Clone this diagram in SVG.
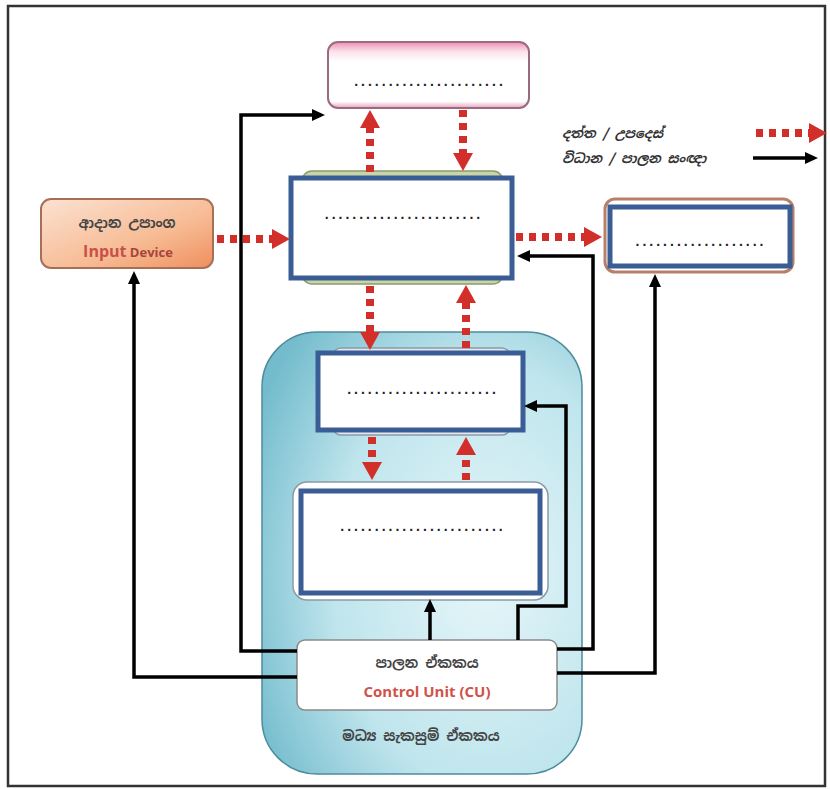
<svg xmlns="http://www.w3.org/2000/svg" width="830" height="789" viewBox="0 0 830 789">
<defs>
<linearGradient id="gPink" x1="0" y1="0" x2="0" y2="1">
<stop offset="0" stop-color="#ee8fb4"/><stop offset="0.15" stop-color="#fbe3ec"/><stop offset="0.3" stop-color="#ffffff"/><stop offset="0.9" stop-color="#ffffff"/><stop offset="1" stop-color="#e7a1bd"/>
</linearGradient>
<linearGradient id="gIn" x1="0" y1="0" x2="1" y2="1">
<stop offset="0" stop-color="#fbe2d2"/><stop offset="0.6" stop-color="#f7bb94"/><stop offset="1" stop-color="#ef8f5e"/>
</linearGradient>
<radialGradient id="gCpu" cx="0.7" cy="0.55" r="0.8">
<stop offset="0" stop-color="#e6f6f9"/><stop offset="0.6" stop-color="#bfe5ed"/><stop offset="1" stop-color="#74bccd"/>
</radialGradient>
<marker id="ar" markerUnits="userSpaceOnUse" markerWidth="19" markerHeight="20" refX="0" refY="10" orient="auto">
<path d="M0,0 L18,10 L0,20 Z" fill="#d32f2a"/>
</marker>
<marker id="ab" markerUnits="userSpaceOnUse" markerWidth="13" markerHeight="12" refX="0" refY="6" orient="auto">
<path d="M0,0 L13,6 L0,12 Z" fill="#000"/>
</marker>
<style>
.dots{font-family:"Liberation Sans",Arial,sans-serif;font-size:14px;font-weight:bold;fill:#222;letter-spacing:3px;text-anchor:middle}
.blue{fill:#fff;stroke:#3b5d95;stroke-width:5}
.red{fill:none;stroke:#d32f2a;stroke-width:8;stroke-dasharray:7 6;marker-end:url(#ar)}
.blk{fill:none;stroke:#000;stroke-width:3.5;marker-end:url(#ab)}
.si{font-family:"Noto Sans Sinhala","Noto Sans","DejaVu Sans",sans-serif;font-weight:bold;fill:#444;text-anchor:middle}
.leg{font-family:"Noto Sans Sinhala","Noto Sans","DejaVu Sans",sans-serif;font-weight:bold;font-style:italic;font-size:13px;fill:#333;text-anchor:start}
.en{font-family:"Open Sans","Liberation Sans",sans-serif;font-weight:bold;text-anchor:middle}
</style>
</defs>
<rect x="8" y="6" width="817" height="780" fill="#fff" stroke="#333" stroke-width="2.5"/>

<g id="cpu">
<rect x="262" y="332" width="320" height="442" rx="55" fill="url(#gCpu)" stroke="#4d8c9c" stroke-width="1.5"/>
<text class="si" x="421" y="741" font-size="14">මධ්‍ය සැකසුම් ඒකකය</text>
</g>

<g id="top-box">
<rect x="328" y="42" width="201" height="66" rx="10" fill="url(#gPink)" stroke="#9a6a80" stroke-width="2"/>
<text class="dots" x="430" y="86">......................</text>
</g>

<g id="memory">
<rect x="302" y="171" width="201" height="113" rx="10" fill="#c9d5a6" stroke="#8c9b6d" stroke-width="1.5"/>
<rect class="blue" x="291" y="178" width="221" height="100"/>
<text class="dots" x="404" y="219">.......................</text>
</g>

<g id="input-device">
<rect x="41" y="199" width="172" height="69" rx="10" fill="url(#gIn)" stroke="#a67058" stroke-width="2"/>
<text class="si" x="127" y="228" font-size="14">ආදාන උපාංග</text>
<text class="en" x="128" y="257"><tspan font-size="16" fill="#c8504a">Input</tspan><tspan font-size="13" fill="#a6453c"> Device</tspan></text>
</g>

<g id="output-box">
<rect x="605" y="199" width="188" height="73" rx="10" fill="#fff" stroke="#b98068" stroke-width="3"/>
<rect class="blue" x="610" y="207" width="180" height="59"/>
<text class="dots" x="701" y="246">...................</text>
</g>

<g id="register-box">
<rect x="333" y="348" width="177" height="87" rx="8" fill="#e4e8ec" stroke="#8a9aa8" stroke-width="1.5"/>
<rect class="blue" x="318" y="353" width="205" height="77"/>
<text class="dots" x="423" y="394">......................</text>
</g>

<g id="alu-box">
<rect x="293" y="482" width="255" height="118" rx="14" fill="#fff" stroke="#8a9aa8" stroke-width="1.5"/>
<rect class="blue" x="301" y="491" width="239" height="102"/>
<text class="dots" x="423" y="531">........................</text>
</g>

<g id="control-unit">
<rect x="297" y="640" width="260" height="70" rx="8" fill="#fff" stroke="#8a8a8a" stroke-width="1.5"/>
<text class="si" x="427" y="668" font-size="14">පාලන ඒකකය</text>
<text class="en" x="427" y="697" font-size="15" fill="#d0534a">Control Unit (CU)</text>
</g>

<g id="legend">
<text class="leg" x="562" y="138">දත්ත / උපදෙස්</text>
<text class="leg" x="562" y="163">විධාන / පාලන සංඥා</text>
<line class="red" x1="756" y1="133" x2="809" y2="133"/>
<line class="blk" x1="753" y1="158" x2="805" y2="158"/>
</g>

<g id="connectors">
<line class="red" x1="217" y1="239" x2="272" y2="239"/>
<line class="red" x1="516" y1="237" x2="584" y2="237"/>
<line class="red" x1="370" y1="172" x2="370" y2="128"/>
<line class="red" x1="463" y1="110" x2="463" y2="153"/>
<line class="red" x1="370" y1="286" x2="370" y2="332"/>
<line class="red" x1="466" y1="348" x2="466" y2="303"/>
<line class="red" x1="372" y1="437" x2="372" y2="462"/>
<line class="red" x1="466" y1="480" x2="466" y2="455"/>

<path class="blk" d="M297,677 H134 V284"/>
<path class="blk" d="M297,651 H241 V115 H312"/>
<path class="blk" d="M430,640 V612"/>
<path class="blk" d="M518,640 V606 H566 V406 H537"/>
<path class="blk" d="M557,649 H593 V256 H530"/>
<path class="blk" d="M557,673 H655 V287"/>
</g>
</svg>
